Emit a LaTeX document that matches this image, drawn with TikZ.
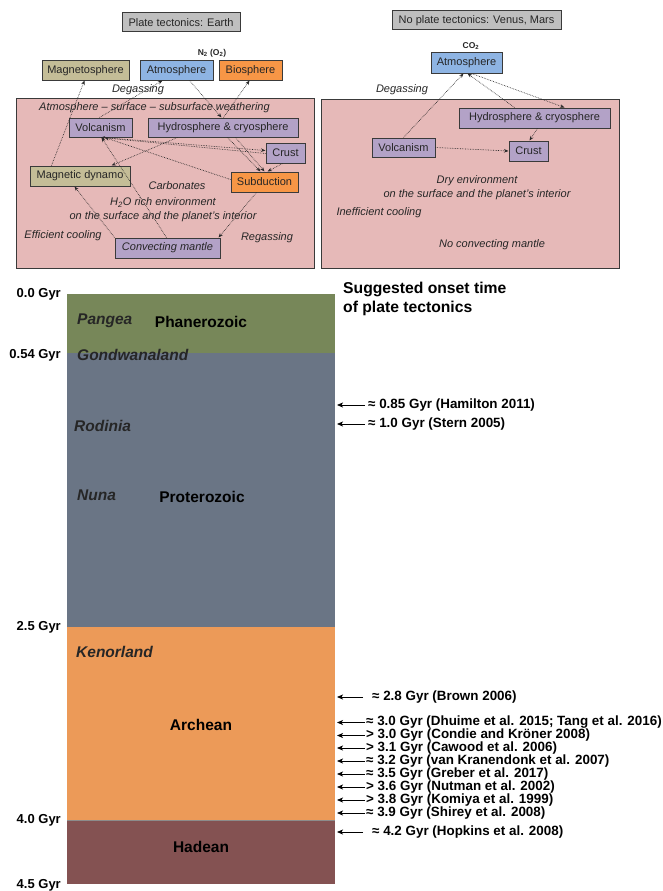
\documentclass[tikz,border=0pt]{standalone}
\usepackage{fontspec}
\setmainfont{Liberation Sans}
\usetikzlibrary{arrows.meta,calc}
\definecolor{pinkbg}{HTML}{E6B9B8}
\definecolor{lav}{HTML}{B3A2C7}
\definecolor{tan}{HTML}{C4BD97}
\definecolor{skyb}{HTML}{8EB4E3}
\definecolor{orng}{HTML}{F79646}
\definecolor{grayt}{HTML}{BFBFBF}
\definecolor{boxline}{HTML}{3A3A3A}
\definecolor{txt}{HTML}{262626}
\definecolor{arrowc}{HTML}{2A2A2A}
\definecolor{phan}{RGB}{119,135,89}
\definecolor{prot}{RGB}{106,117,133}
\definecolor{arch}{RGB}{236,154,88}
\definecolor{hade}{RGB}{132,82,82}
\begin{document}
\begin{tikzpicture}[x=1pt,y=-1pt,
  box/.style={draw=boxline,line width=1pt,inner sep=0pt,minimum height=20pt,font=\fontsize{11}{13}\selectfont,text=txt},
  lavbox/.style={box,fill=lav},
  tanbox/.style={box,fill=tan},
  bluebox/.style={box,fill=skyb},
  orbox/.style={box,fill=orng},
  titlebox/.style={box,fill=grayt,minimum height=19pt},
  lbl/.style={font=\fontsize{11}{14}\selectfont\itshape,text=txt,inner sep=0pt,align=center},
  chem/.style={font=\fontsize{8.5}{10}\selectfont\bfseries,text=txt,inner sep=0pt},
  flow/.style={densely dotted,line width=0.65pt,draw=arrowc,-{Stealth[length=4.5pt,width=3.5pt]}},
  era/.style={font=\fontsize{15.5}{18}\selectfont\bfseries,inner sep=0pt},
  cont/.style={font=\fontsize{15.5}{18}\selectfont\bfseries\itshape,inner sep=0pt,anchor=west,text=black!85},
  gyr/.style={font=\fontsize{13}{15}\selectfont\bfseries,inner sep=0pt,anchor=east},
  ref/.style={font=\fontsize{13.4}{14}\selectfont\bfseries,inner sep=0pt,anchor=west},
  refarrow/.style={line width=0.8pt,-{Stealth[length=6pt,width=5pt,inset=1.5pt]}}
]
\useasboundingbox (0,0) rectangle (662,891);
\fill[white] (0,0) rectangle (662,891);

% ---------------- Left panel ----------------
\filldraw[fill=pinkbg,draw=boxline,line width=1pt] (16,98) rectangle (314,268);
\node[titlebox,minimum width=118pt] (tL) at (181,22.5) {Plate tectonics: Earth};
\node[chem] (n2) at (212,53) {N\textsubscript{2} (O\textsubscript{2})};
\node[tanbox,minimum width=87pt,minimum height=19pt] (magsph) at (85.5,70.5) {Magnetosphere};
\node[bluebox,minimum width=73pt,minimum height=19pt] (atmL) at (176.5,70.5) {Atmosphere};
\node[orbox,minimum width=63pt,minimum height=19pt] (bio) at (250.5,70.5) {Biosphere};
\node[lbl] (degL) at (138,90) {Degassing};
\node[lbl] (weath) at (154.5,108) {Atmosphere -- surface -- subsurface weathering};
\node[lavbox,minimum width=63pt,minimum height=19pt] (volcL) at (100.5,127.5) {Volcanism};
\node[lavbox,minimum width=150pt,minimum height=19pt] (hydL) at (223,127.5) {Hydrosphere \& cryosphere};
\node[lavbox,minimum width=39pt,minimum height=20pt] (crustL) at (285.5,153) {Crust};
\node[tanbox,minimum width=100pt,minimum height=20pt] (dyn) at (80,176) {Magnetic dynamo};
\node[orbox,minimum width=67pt,minimum height=20pt] (subd) at (264.5,182) {Subduction};
\node[lbl] (carb) at (177,186) {Carbonates};
\node[lbl] (h2o) at (163,210) {H\textsubscript{2}O rich environment\\on the surface and the planet's interior};
\node[lbl] (effc) at (63,236) {Efficient cooling};
\node[lbl] (regas) at (267,238) {Regassing};
\node[lavbox,minimum width=105pt,minimum height=20pt,font=\fontsize{11}{13}\selectfont\itshape] (mant) at (167.5,248) {Convecting mantle};

\draw[flow] ($(dyn.north west)+(22,0)$) -- ($(magsph.south west)+(43,0)$);
\draw[flow] ($(volcL.north west)+(31,0)$) -- ($(atmL.south west)+(23,0)$);
\draw[flow] ($(atmL.south west)+(50,0)$) -- ($(hydL.north west)+(74,0)$);
\draw[flow] ($(hydL.north west)+(76,0)$) -- ($(bio.south west)+(31,0)$);
\draw[flow] ($(volcL.south west)+(34,0)$) -- ($(crustL.north west)+(0,8)$);
\draw[flow] ($(crustL.north west)+(0,11)$) -- ($(volcL.south west)+(32,0)$);
\draw[flow] ($(subd.north west)+(0,8)$) -- ($(volcL.south west)+(36,0)$);
\draw[flow] ($(hydL.south west)+(30,0)$) -- ($(dyn.north west)+(82,0)$);
\draw[flow] ($(hydL.south west)+(80,0)$) -- ($(subd.north west)+(30,0)$);
\draw[flow] ($(hydL.south west)+(88,0)$) -- ($(subd.north west)+(34,0)$);
\draw[flow] ($(crustL.south west)+(17,0)$) -- ($(subd.north west)+(37,0)$);
\draw[flow] ($(subd.south west)+(26,0)$) -- ($(mant.north east)+(-2,0)$);
\draw[flow] ($(mant.north west)+(0,0)$) -- ($(dyn.south west)+(45,0)$);
\draw[flow] ($(mant.north west)+(52,0)$) -- ($(volcL.south west)+(33,0)$);

% ---------------- Right panel ----------------
\filldraw[fill=pinkbg,draw=boxline,line width=1pt] (321,99) rectangle (619,268);
\node[titlebox,minimum width=169pt] (tR) at (476.5,20.5) {No plate tectonics: Venus, Mars};
\node[chem] (co2) at (471,46) {CO\textsubscript{2}};
\node[bluebox,minimum width=71pt,minimum height=20pt] (atmR) at (466.5,63) {Atmosphere};
\node[lbl] (degR) at (402,90) {Degassing};
\node[lavbox,minimum width=151pt,minimum height=20pt] (hydR) at (534.5,118) {Hydrosphere \& cryosphere};
\node[lavbox,minimum width=63pt,minimum height=19pt] (volcR) at (403.5,147.5) {Volcanism};
\node[lavbox,minimum width=39pt,minimum height=20pt] (crustR) at (528.5,151) {Crust};
\node[lbl] (dry) at (477,187.5) {Dry environment\\on the surface and the planet's interior};
\node[lbl] (ineff) at (379,213) {Inefficient cooling};
\node[lbl] (nocm) at (492,245) {No convecting mantle};

\draw[flow] ($(volcR.north west)+(32,0)$) -- ($(atmR.south west)+(33,0)$);
\draw[flow] ($(hydR.north west)+(56,0)$) -- ($(atmR.south west)+(37,0)$);
\draw[flow] ($(atmR.south west)+(41,0)$) -- ($(hydR.north west)+(106,0)$);
\draw[flow] ($(hydR.south west)+(79,0)$) -- ($(crustR.north west)+(21,0)$);
\draw[flow] (volcR.east) -- (crustR.west);

% ---------------- Timeline ----------------
\fill[phan] (67,294) rectangle (335,353);
\fill[prot] (67,353) rectangle (335,627);
\fill[arch] (67,627) rectangle (335,820);
\fill[hade] (67,820) rectangle (335,884);
\draw[black!45,line width=0.6pt] (67,820) -- (335,820);

\node[gyr] (g0) at (61,294) {0.0 Gyr};
\node[gyr] (g1) at (61,355) {0.54 Gyr};
\node[gyr] (g2) at (61,627) {2.5 Gyr};
\node[gyr] (g3) at (61,820) {4.0 Gyr};
\node[gyr] (g4) at (61,885) {4.5 Gyr};

\node[cont] (pangea) at (77,321) {Pangea};
\node[era] (phz) at (201,322) {Phanerozoic};
\node[cont] (gond) at (77,355) {Gondwanaland};
\node[cont] (rod) at (74,426) {Rodinia};
\node[cont] (nuna) at (77,495) {Nuna};
\node[era] (ptz) at (202,497) {Proterozoic};
\node[cont] (ken) at (76,652) {Kenorland};
\node[era] (arc) at (201,725) {Archean};
\node[era] (had) at (201,847) {Hadean};

\node[font=\fontsize{15.7}{19}\selectfont\bfseries,inner sep=0pt,anchor=north west,align=left] (sugg) at (343,282) {Suggested onset time\\of plate tectonics};

\node[ref] (r1) at (368,405) {≈ 0.85 Gyr (Hamilton 2011)};
\node[ref] (r2) at (368,424) {≈ 1.0 Gyr (Stern 2005)};
\node[ref] (r3) at (372,697) {≈ 2.8 Gyr (Brown 2006)};
\node[ref] (r4) at (366,722.5) {≈ 3.0 Gyr (Dhuime et al. 2015; Tang et al. 2016)};
\node[ref] (r5) at (366,735.5) {> 3.0 Gyr (Condie and Kröner 2008)};
\node[ref] (r6) at (366,748) {> 3.1 Gyr (Cawood et al. 2006)};
\node[ref] (r7) at (366,761) {≈ 3.2 Gyr (van Kranendonk et al. 2007)};
\node[ref] (r8) at (366,774) {≈ 3.5 Gyr (Greber et al. 2017)};
\node[ref] (r9) at (366,787) {> 3.6 Gyr (Nutman et al. 2002)};
\node[ref] (r10) at (366,800) {> 3.8 Gyr (Komiya et al. 1999)};
\node[ref] (r11) at (366,813) {≈ 3.9 Gyr (Shirey et al. 2008)};
\node[ref] (r12) at (372,832) {≈ 4.2 Gyr (Hopkins et al. 2008)};

\foreach \r/\y/\g in {r1/405/3,r2/424/3,r3/697/9,r4/722.5/1,r5/735.5/1,r6/748/1,r7/761/1,r8/774/1,r9/787/1,r10/800/1,r11/813/1,r12/832/9}{
  \coordinate (t\r) at (337,\y);
  \draw[refarrow] ($(\r.west)+(-\g,0)$) -- (t\r);
}
\end{tikzpicture}
\end{document}
